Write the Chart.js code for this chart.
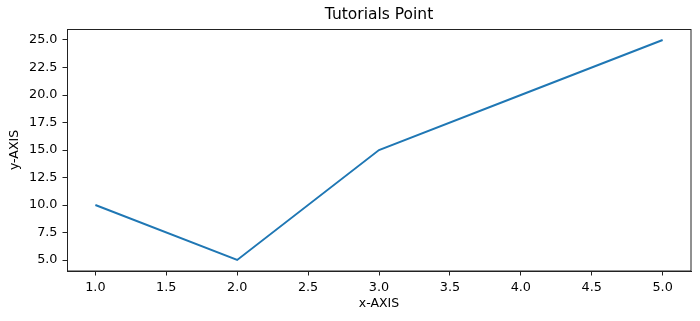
<!DOCTYPE html>
<html>
<head>
<meta charset="utf-8">
<script src="https://cdn.jsdelivr.net/npm/chart.js@4"></script>
<style>
  html, body { margin: 0; padding: 0; background: #fff; }
  #wrap { width: 700px; height: 321px; }
</style>
</head>
<body>
<div id="wrap"><canvas id="c" width="700" height="321"></canvas></div>
<script>
const xValues = [1, 2, 3, 4, 5];
const yValues = [10, 5, 15, 20, 25];
const xTicks = [1.0, 1.5, 2.0, 2.5, 3.0, 3.5, 4.0, 4.5, 5.0];
const yTicks = [5.0, 7.5, 10.0, 12.5, 15.0, 17.5, 20.0, 22.5, 25.0];
const chartTitle = 'Tutorials Point';
const xTitle = 'x-AXIS';
const yTitle = 'y-AXIS';

const FONT = "'DejaVu Sans', sans-serif";

const framePlugin = {
  id: 'frame',
  afterDraw(chart) {
    const a = chart.chartArea;
    const ctx = chart.ctx;
    ctx.save();
    ctx.strokeStyle = '#222';
    ctx.lineWidth = 1;
    ctx.strokeRect(Math.round(a.left) + 0.5, Math.round(a.top) + 0.5,
                   Math.round(a.right - a.left) - 0.5, Math.round(a.bottom - a.top) - 0.5);
    ctx.restore();
  }
};

new Chart(document.getElementById('c'), {
  type: 'line',
  data: {
    datasets: [{
      data: xValues.map((x, i) => ({ x: x, y: yValues[i] })),
      borderColor: '#1f77b4',
      borderWidth: 1.9,
      pointRadius: 0,
      tension: 0,
      fill: false
    }]
  },
  options: {
    responsive: false,
    animation: false,
    layout: { padding: { left: 0, right: 9, top: 0, bottom: 0 } },
    plugins: {
      legend: { display: false },
      tooltip: { enabled: false },
      title: {
        display: true,
        fullSize: false,
        text: chartTitle,
        color: '#000',
        font: { family: FONT, size: 15.5, weight: 'normal', lineHeight: 1.2 },
        padding: { top: 6, bottom: 4.4 }
      }
    },
    scales: {
      x: {
        type: 'linear',
        min: 0.8,
        max: 5.2,
        afterBuildTicks: s => { s.ticks = xTicks.map(v => ({ value: v })); },
        afterFit: s => { s.height = 50; },
        ticks: {
          color: '#000',
          font: { family: FONT, size: 12.8 },
          padding: 4,
          maxRotation: 0,
          autoSkip: false,
          callback: v => Number(v).toFixed(1)
        },
        grid: { display: true, drawOnChartArea: false, drawTicks: true, tickLength: 4.5, tickColor: '#222', tickWidth: 1 },
        border: { display: true, color: '#222', width: 1 },
        title: {
          display: true, text: xTitle, color: '#000',
          font: { family: FONT, size: 12.5, lineHeight: 1.2 },
          padding: { top: 0, bottom: 9.5 }
        }
      },
      y: {
        type: 'linear',
        min: 4,
        max: 26,
        afterBuildTicks: s => { s.ticks = yTicks.map(v => ({ value: v })); },
        afterFit: s => { s.width = 67; },
        ticks: {
          color: '#000',
          font: { family: FONT, size: 12.8 },
          padding: 5,
          autoSkip: false,
          callback: v => Number(v).toFixed(1)
        },
        grid: { display: true, drawOnChartArea: false, drawTicks: true, tickLength: 4.5, tickColor: '#222', tickWidth: 1 },
        border: { display: true, color: '#222', width: 1 },
        title: {
          display: true, text: yTitle, color: '#000',
          font: { family: FONT, size: 12.5, lineHeight: 1.2 },
          padding: { top: 7, bottom: 0 }
        }
      }
    }
  },
  plugins: [framePlugin]
});
</script>
</body>
</html>
